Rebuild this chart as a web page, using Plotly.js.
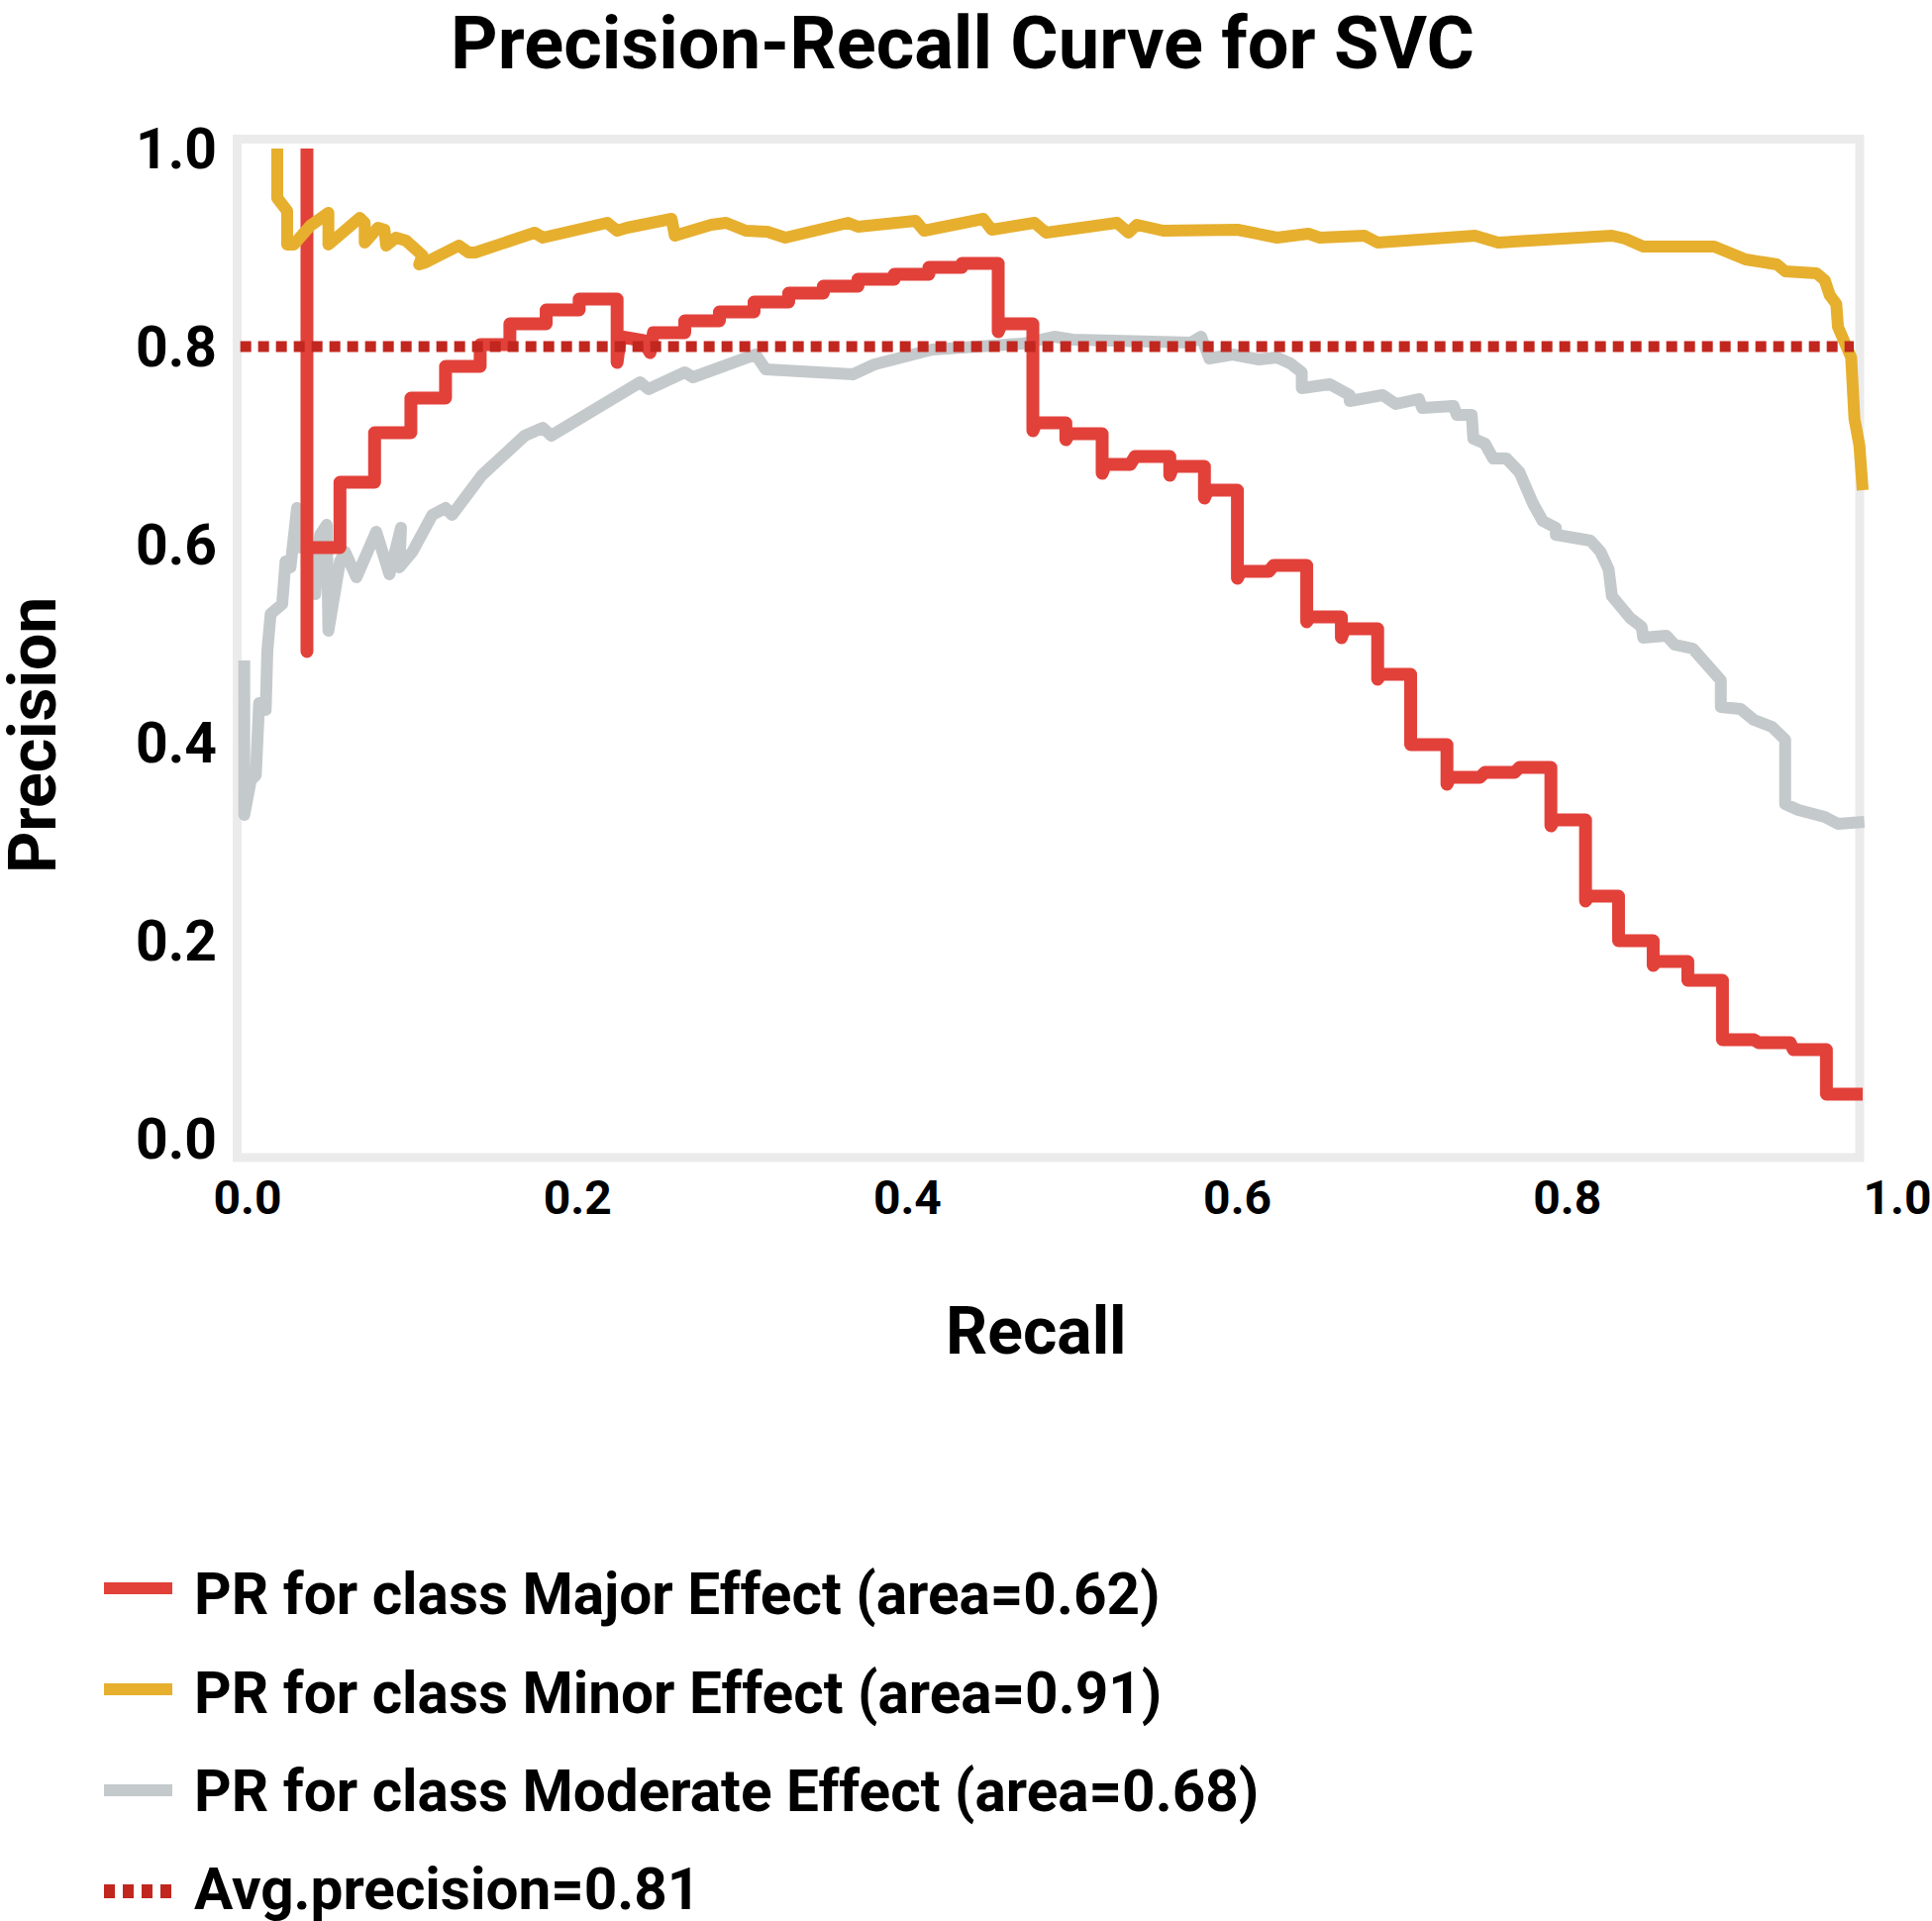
<!DOCTYPE html>
<html><head><meta charset="utf-8">
<script src="https://cdn.plot.ly/plotly-3.0.1.min.js"></script>
<style>html,body{margin:0;padding:0;background:#fff;} .js-line{stroke-linejoin:round;}</style>
</head><body><div id="chart" style="width:1951px;height:1940px;"></div>
<script>
// ---------------- data ----------------
const chartTitle = 'Precision-Recall Curve for SVC';
const xAxisLabel = 'Recall';
const yAxisLabel = 'Precision';
const classNames = ['Major Effect', 'Minor Effect', 'Moderate Effect'];
const classAreas = [0.62, 0.91, 0.68];
const avgPrecisionValue = 0.81;
const tickValues = [0, 0.2, 0.4, 0.6, 0.8, 1.0];
const tickLabels = ['0.0', '0.2', '0.4', '0.6', '0.8', '1.0'];

const majorRecall = [
  0.036,0.036,0.036,0.056,0.056,0.077,0.077,0.099,0.099,0.120,
  0.120,0.141,0.141,0.159,0.159,0.181,0.181,0.201,0.201,0.224,
  0.224,0.226,0.240,0.244,0.246,0.265,0.265,0.286,0.286,0.307,
  0.307,0.328,0.328,0.349,0.349,0.370,0.370,0.392,0.392,0.413,
  0.413,0.433,0.433,0.455,0.455,0.457,0.476,0.476,0.478,0.496,
  0.496,0.498,0.518,0.518,0.520,0.535,0.538,0.559,0.559,0.561,
  0.580,0.580,0.582,0.600,0.600,0.602,0.619,0.622,0.642,0.642,
  0.644,0.663,0.663,0.665,0.685,0.685,0.687,0.705,0.705,0.727,
  0.727,0.729,0.747,0.750,0.768,0.771,0.790,0.790,0.792,0.811,
  0.811,0.813,0.831,0.831,0.852,0.852,0.854,0.873,0.873,0.894,
  0.894,0.913,0.916,0.935,0.937,0.957,0.957,0.979];
const majorPrecision = [
  1.000,0.492,0.597,0.597,0.663,0.663,0.713,0.713,0.748,0.748,
  0.780,0.780,0.802,0.802,0.823,0.823,0.837,0.837,0.848,0.848,
  0.784,0.810,0.806,0.794,0.814,0.814,0.826,0.826,0.835,0.835,
  0.845,0.845,0.854,0.854,0.861,0.861,0.868,0.868,0.873,0.873,
  0.880,0.880,0.884,0.884,0.815,0.823,0.823,0.715,0.723,0.723,
  0.706,0.712,0.712,0.672,0.681,0.681,0.689,0.689,0.670,0.679,
  0.679,0.647,0.655,0.655,0.566,0.573,0.573,0.579,0.579,0.522,
  0.527,0.527,0.506,0.515,0.515,0.464,0.469,0.469,0.398,0.398,
  0.358,0.365,0.365,0.370,0.370,0.375,0.375,0.316,0.322,0.322,
  0.240,0.245,0.245,0.200,0.200,0.175,0.179,0.179,0.160,0.160,
  0.100,0.100,0.097,0.097,0.090,0.090,0.045,0.045];

const minorRecall = [
  0.018,0.018,0.024,0.024,0.028,0.038,0.049,0.049,0.054,0.068,
  0.071,0.071,0.079,0.083,0.084,0.090,0.096,0.102,0.106,0.104,
  0.108,0.128,0.134,0.138,0.174,0.179,0.210,0.218,0.224,0.230,
  0.257,0.259,0.281,0.290,0.302,0.315,0.326,0.364,0.370,0.405,
  0.410,0.442,0.446,0.451,0.477,0.484,0.527,0.534,0.539,0.555,
  0.573,0.600,0.624,0.643,0.650,0.677,0.685,0.744,0.758,0.827,
  0.835,0.846,0.889,0.900,0.908,0.927,0.932,0.951,0.956,0.959,
  0.963,0.964,0.972,0.974,0.977,0.979];
const minorPrecision = [
  1.000,0.950,0.937,0.903,0.903,0.922,0.935,0.903,0.910,0.930,
  0.925,0.905,0.920,0.918,0.902,0.910,0.907,0.897,0.892,0.883,
  0.885,0.902,0.895,0.895,0.915,0.910,0.922,0.925,0.917,0.920,
  0.929,0.912,0.923,0.925,0.917,0.916,0.910,0.925,0.921,0.927,
  0.917,0.930,0.929,0.918,0.925,0.915,0.925,0.915,0.923,0.917,
  0.917,0.918,0.910,0.914,0.910,0.912,0.905,0.912,0.905,0.912,
  0.909,0.901,0.901,0.892,0.888,0.883,0.876,0.874,0.867,0.852,
  0.843,0.820,0.789,0.727,0.700,0.655];

const moderateRecall = [
  -0.002,-0.002,0.002,0.005,0.007,0.011,0.012,0.014,0.021,0.023,
  0.026,0.027,0.030,0.032,0.036,0.041,0.044,0.048,0.049,0.056,
  0.059,0.066,0.078,0.086,0.093,0.092,0.100,0.112,0.120,0.124,
  0.142,0.168,0.179,0.184,0.216,0.230,0.238,0.243,0.265,0.270,
  0.290,0.308,0.314,0.324,0.337,0.360,0.367,0.380,0.401,0.415,
  0.470,0.489,0.500,0.545,0.572,0.578,0.583,0.597,0.613,0.624,
  0.632,0.639,0.639,0.656,0.668,0.668,0.688,0.696,0.710,0.712,
  0.731,0.733,0.742,0.743,0.750,0.755,0.763,0.771,0.775,0.779,
  0.785,0.793,0.793,0.803,0.814,0.820,0.825,0.827,0.838,0.845,
  0.846,0.860,0.865,0.876,0.889,0.893,0.893,0.905,0.913,0.924,
  0.932,0.932,0.940,0.956,0.964,0.972,0.980];
const moderatePrecision = [
  0.483,0.327,0.362,0.367,0.440,0.433,0.493,0.530,0.540,0.583,
  0.577,0.603,0.637,0.597,0.600,0.550,0.610,0.620,0.513,0.583,
  0.593,0.567,0.613,0.570,0.617,0.577,0.593,0.630,0.637,0.630,
  0.670,0.710,0.718,0.710,0.743,0.757,0.764,0.757,0.774,0.769,
  0.782,0.792,0.777,0.776,0.775,0.773,0.772,0.782,0.790,0.797,
  0.803,0.810,0.807,0.805,0.804,0.810,0.788,0.792,0.787,0.789,
  0.783,0.774,0.758,0.762,0.751,0.745,0.751,0.742,0.747,0.738,
  0.740,0.731,0.731,0.707,0.702,0.687,0.687,0.673,0.655,0.642,
  0.624,0.617,0.610,0.606,0.604,0.593,0.575,0.548,0.526,0.517,
  0.506,0.508,0.499,0.495,0.468,0.463,0.436,0.434,0.423,0.416,
  0.403,0.338,0.332,0.325,0.318,0.320,0.320];

const avgRecall = [-0.0044, 0.9736];
const avgPrecision = [0.80, 0.80];

// ---------------- styling ----------------
const colors = {major: '#E2413A', minor: '#E6AF2E', moderate: '#C4C9CB', avg: '#C1271F', frame: '#EBEBEB'};
const FONT = 'Roboto, "Liberation Sans", Arial, sans-serif';
const W = 1951, H = 1940;
const L = 226, R = 1935, T = 126, B = 1175;   // plot area in px
const pxX = px => (px - L) / (R - L);
const pxY = py => (B - py) / (B - T);

const legendLabels = classNames.map((n, i) => 'PR for class ' + n + ' (area=' + classAreas[i].toFixed(2) + ')')
  .concat(['Avg.precision=' + avgPrecisionValue.toFixed(2)]);
const legendColors = [colors.major, colors.minor, colors.moderate, colors.avg];
const legendLinePx = [1604, 1706, 1808, 1910];
const legendTextPx = [1610, 1710, 1809, 1908];

const traces = [
  {x: moderateRecall, y: moderatePrecision, name: legendLabels[2], mode: 'lines',
   line: {color: colors.moderate, width: 12}},
  {x: majorRecall, y: majorPrecision, name: legendLabels[0], mode: 'lines',
   line: {color: colors.major, width: 13}},
  {x: minorRecall, y: minorPrecision, name: legendLabels[1], mode: 'lines',
   line: {color: colors.minor, width: 12}},
  {x: avgRecall, y: avgPrecision, name: legendLabels[3], mode: 'lines',
   line: {color: colors.avg, width: 11, dash: '11px,7px'}}
];

const shapes = [
  {type: 'rect', xref: 'x', yref: 'y', x0: -0.0063, x1: 0.9772, y0: -0.019, y1: 1.0095,
   line: {color: colors.frame, width: 9}, layer: 'below'}
];
legendLinePx.forEach((py, i) => {
  shapes.push({type: 'line', xref: 'paper', yref: 'paper',
    x0: pxX(105), x1: pxX(174), y0: pxY(py), y1: pxY(py),
    line: {color: legendColors[i], width: i === 3 ? 14 : 12, dash: i === 3 ? '11px,8px' : 'solid'}});
});

const annotations = [
  {text: xAxisLabel, xref: 'paper', yref: 'paper', x: pxX(1046), y: pxY(1344),
   xanchor: 'center', yanchor: 'middle', showarrow: false, borderpad: 0,
   font: {family: FONT, size: 66, weight: 700, color: '#000'}},
  {text: yAxisLabel, xref: 'paper', yref: 'paper', x: pxX(34), y: pxY(743), textangle: -90,
   xanchor: 'center', yanchor: 'middle', showarrow: false, borderpad: 0,
   font: {family: FONT, size: 66, weight: 700, color: '#000'}}
];
legendTextPx.forEach((py, i) => {
  annotations.push({text: legendLabels[i], xref: 'paper', yref: 'paper', x: pxX(195), y: pxY(py),
    xanchor: 'left', yanchor: 'middle', showarrow: false, borderpad: 0,
    font: {family: FONT, size: 58.5, weight: 700, color: '#000'}});
});

const layout = {
  width: W, height: H,
  margin: {l: L, r: W - R, t: T, b: H - B, pad: 0},
  paper_bgcolor: '#fff', plot_bgcolor: '#fff',
  showlegend: false,
  title: {text: chartTitle, x: 972 / W, xanchor: 'center', xref: 'container',
          y: 1 - 43 / H, yanchor: 'middle', yref: 'container',
          font: {family: FONT, size: 74, weight: 700, color: '#000'}},
  xaxis: {range: [(L - 250) / 1666, (R - 250) / 1666], tickvals: tickValues, ticktext: tickLabels,
          showgrid: false, zeroline: false, showline: false, ticks: '', automargin: false,
          ticklabelstandoff: 2, tickfont: {family: FONT, size: 48, weight: 700, color: '#000'}},
  yaxis: {range: [(1150 - B) / 1000, (1150 - T) / 1000], tickvals: tickValues, ticktext: tickLabels,
          showgrid: false, zeroline: false, showline: false, ticks: '', automargin: false,
          ticklabelstandoff: 6, tickfont: {family: FONT, size: 57, weight: 700, color: '#000'}},
  shapes: shapes,
  annotations: annotations
};

Plotly.newPlot('chart', traces, layout, {displayModeBar: false, staticPlot: true});
</script>
</body></html>
